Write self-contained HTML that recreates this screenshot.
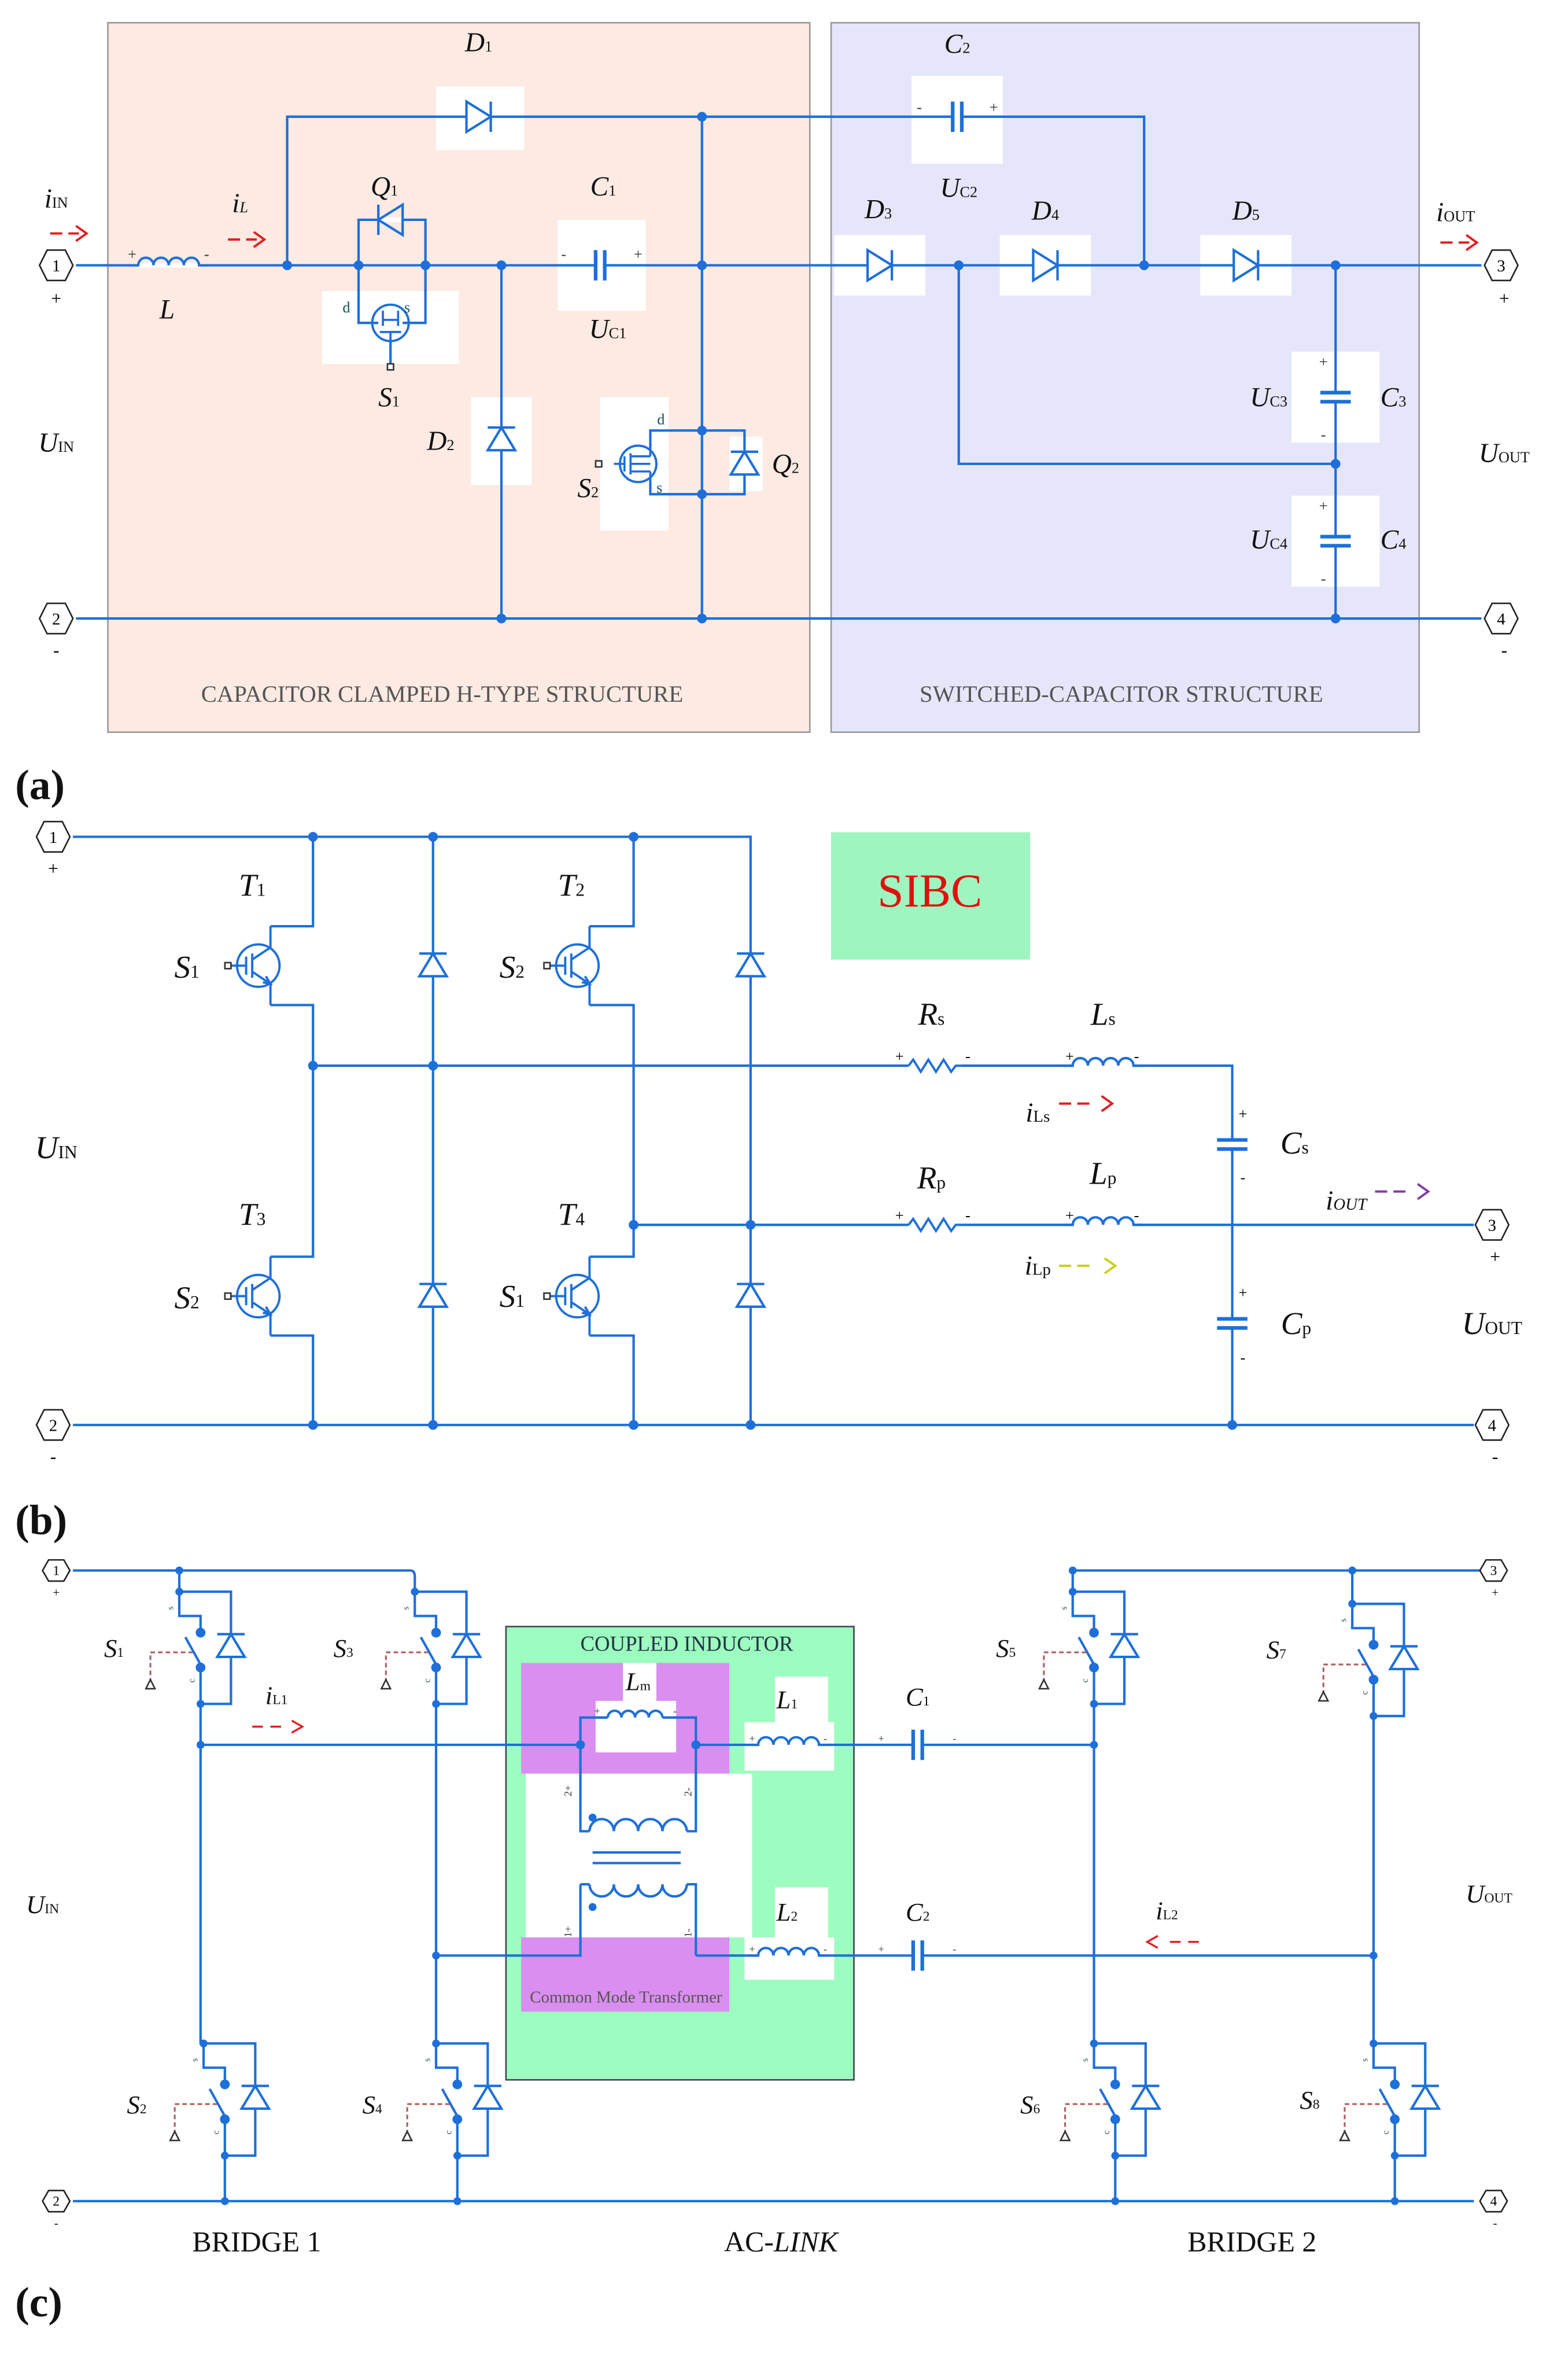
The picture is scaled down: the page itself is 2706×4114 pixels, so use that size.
<!DOCTYPE html>
<html><head><meta charset="utf-8"><style>
html,body{margin:0;padding:0;background:#fff;}
svg{display:block;}
text{font-family:"Liberation Serif",serif;}
</style></head><body>
<svg width="2706" height="4114" viewBox="0 0 1030 1570" preserveAspectRatio="none" xmlns="http://www.w3.org/2000/svg">
<defs>
<g id="dR"><rect x="-8" y="-1.5" width="16" height="3" fill="#fff"/><path d="M-8,-10 L-8,10 L8,0 Z M8,-10 L8,10" fill="none" stroke="#1e6fd9" stroke-width="1.6"/></g>
<g id="dU"><path d="M-9,7 L9,7 L0,-8 Z M-9,-8 L9,-8" fill="#fff" stroke="#1e6fd9" stroke-width="1.6"/></g>
<g id="ind"><rect x="-20" y="-1.5" width="40" height="3" fill="#fff"/><path d="M-26,0 L-20,0 a5,5 0 0 1 10,0 a5,5 0 0 1 10,0 a5,5 0 0 1 10,0 a5,5 0 0 1 10,0 L26,0" fill="none" stroke="#1e6fd9" stroke-width="1.6"/></g>
<g id="res"><rect x="-17" y="-1.5" width="34" height="3" fill="#fff"/><path d="M-17,0 L-14,-4 L-9,4 L-4,-4 L1,4 L6,-4 L11,4 L14,0 L17,0" fill="none" stroke="#1e6fd9" stroke-width="1.5"/></g>
<g id="capH"><rect x="-3" y="-1.5" width="6" height="3" fill="#fff"/><path d="M-3,-10 L-3,10 M3,-10 L3,10" stroke="#1e6fd9" stroke-width="2.4"/></g>
<g id="capV"><rect x="-1.5" y="-3" width="3" height="6" fill="#fff"/><path d="M-10,-3 L10,-3 M-10,3 L10,3" stroke="#1e6fd9" stroke-width="2.4"/></g>
<g id="igbt"><circle r="14" fill="none" stroke="#1e6fd9" stroke-width="1.5"/><path d="M-4,-8 L-4,8 M-8,-6 L-8,6 M-18,0 L-8,0 M-4,-4 L8,-12 L8,-26 M-4,4 L8,12 L8,26 M3,11 L8,12 L5,7" fill="none" stroke="#1e6fd9" stroke-width="1.5"/><rect x="-22" y="-2" width="4" height="4" fill="#fff" stroke="#333" stroke-width="1"/></g>
<g id="sw"><path d="M-14,0 L-14,16 L0,16 L0,24 M-10,30 L0,48 M0,52 L0,74 M-14,0 L20,0 L20,74 L0,74" fill="none" stroke="#1e6fd9" stroke-width="1.6"/><use href="#dU" x="20" y="36"/><circle cx="0" cy="27" r="3.2" fill="#1e6fd9"/><circle cx="0" cy="50" r="3.2" fill="#1e6fd9"/><circle cx="-14" cy="0" r="2.6" fill="#1e6fd9"/><circle cx="0" cy="74" r="2.6" fill="#1e6fd9"/><path d="M-5,40 L-33,40 L-33,58" fill="none" stroke="#b06060" stroke-width="1.2" stroke-dasharray="3,2"/><path d="M-36,64 L-30,64 L-33,58 Z" fill="#fff" stroke="#333" stroke-width="1"/><text x="-18" y="12" font-size="6" fill="#355" font-family="Liberation Sans" transform="rotate(-90 -18 12)">s</text><text x="-4" y="60" font-size="6" fill="#355" font-family="Liberation Sans" transform="rotate(-90 -4 60)">c</text></g>
<g id="mos"><circle r="12" fill="none" stroke="#1e6fd9" stroke-width="1.5"/><path d="M-5,-7 L-5,7 M-9,-5 L-9,5 M-16,0 L-9,0 M-5,-5 L8,-5 M-5,5 L8,5 M-5,0 L8,0 M8,-5 L8,-10 M8,5 L8,10" fill="none" stroke="#1e6fd9" stroke-width="1.4"/></g>
</defs>

<!-- ============ PANEL A ============ -->
<rect x="71" y="15" width="462" height="468" fill="#fdeae2" stroke="#999" stroke-width="1"/>
<rect x="547" y="15" width="387" height="468" fill="#e6e6fb" stroke="#999" stroke-width="1"/>
<g fill="#fff">
<rect x="287" y="57" width="58" height="42"/><rect x="600" y="50" width="60" height="58"/>
<rect x="212" y="192" width="90" height="48"/><rect x="367" y="145" width="58" height="60"/>
<rect x="310" y="262" width="40" height="58"/><rect x="395" y="262" width="45" height="88"/>
<rect x="480" y="288" width="22" height="36"/>
<rect x="549" y="155" width="60" height="40"/><rect x="658" y="155" width="60" height="40"/><rect x="790" y="155" width="60" height="40"/>
<rect x="850" y="232" width="58" height="60"/><rect x="850" y="327" width="58" height="60"/>
</g>
<g fill="none" stroke="#1e6fd9" stroke-width="1.6">
<path d="M50,175 L975,175"/>
<path d="M50,408 L975,408"/>
<path d="M189,175 L189,77 L753,77 L753,175"/>
<path d="M236,175 L236,145 L280,145 L280,175"/>
<path d="M236,175 L236,213 L249,213 M280,175 L280,213 L265,213"/>
<path d="M257,225 L257,241"/>
<path d="M330,175 L330,408"/>
<path d="M462,77 L462,408"/>
<path d="M462,284 L428,284 L428,296 M462,326 L428,326 L428,316"/>
<path d="M462,284 L490,284 L490,326 L462,326"/>
<path d="M631,175 L631,306 L879,306"/>
<path d="M879,175 L879,408"/>
</g>
<use href="#ind" x="111" y="175"/>
<use href="#dR" x="315" y="77"/>
<g transform="translate(257,145) rotate(180)"><use href="#dR"/></g>
<g transform="translate(257,213)"><circle r="12" fill="none" stroke="#1e6fd9" stroke-width="1.5"/><path d="M-7,6 L7,6 M-5,2 L-5,-8 M5,2 L5,-8 M-5,-2 L5,-2 M0,6 L0,12" fill="none" stroke="#1e6fd9" stroke-width="1.4"/></g>
<rect x="255" y="240" width="4" height="4" fill="#fff" stroke="#333" stroke-width="1"/>
<use href="#capH" x="395" y="175"/>
<use href="#dU" x="330" y="290"/>
<g transform="translate(420,306)"><use href="#mos"/></g>
<rect x="392" y="304" width="4" height="4" fill="#fff" stroke="#333" stroke-width="1"/>
<use href="#dU" x="490" y="306"/>
<use href="#capH" x="630" y="77"/>
<use href="#dR" x="579" y="175"/>
<use href="#dR" x="688" y="175"/>
<use href="#dR" x="820" y="175"/>
<use href="#capV" x="879" y="262"/>
<use href="#capV" x="879" y="357"/>
<g fill="#1e6fd9">
<circle cx="189" cy="175" r="3.2"/><circle cx="236" cy="175" r="3.2"/><circle cx="280" cy="175" r="3.2"/><circle cx="330" cy="175" r="3.2"/><circle cx="462" cy="175" r="3.2"/><circle cx="462" cy="77" r="3.2"/><circle cx="631" cy="175" r="3.2"/><circle cx="753" cy="175" r="3.2"/><circle cx="879" cy="175" r="3.2"/><circle cx="879" cy="306" r="3.2"/><circle cx="879" cy="408" r="3.2"/><circle cx="462" cy="408" r="3.2"/><circle cx="330" cy="408" r="3.2"/><circle cx="462" cy="284" r="3.2"/><circle cx="462" cy="326" r="3.2"/>
</g>
<g font-family="Liberation Sans" font-size="11" text-anchor="middle">
<polygon points="26,175 31,165 43,165 48,175 43,185 31,185" fill="#fff" stroke="#222"/><text x="37" y="179">1</text>
<polygon points="26,408 31,398 43,398 48,408 43,418 31,418" fill="#fff" stroke="#222"/><text x="37" y="412">2</text>
<polygon points="977,175 982,165 994,165 999,175 994,185 982,185" fill="#fff" stroke="#222"/><text x="988" y="179">3</text>
<polygon points="977,408 982,398 994,398 999,408 994,418 982,418" fill="#fff" stroke="#222"/><text x="988" y="412">4</text>
<text x="37" y="201" font-size="12">+</text><text x="37" y="433" font-size="12">-</text><text x="990" y="201" font-size="12">+</text><text x="990" y="433" font-size="12">-</text>
</g>
<g stroke="#e02020" stroke-width="1.5" fill="none">
<path d="M33,154 L41,154 M45,154 L52,154 M50,149 L57,154 L50,159"/>
<path d="M150,158 L158,158 M162,158 L169,158 M167,153 L174,158 L167,163"/>
<path d="M948,160 L956,160 M960,160 L967,160 M965,155 L972,160 L965,165"/>
</g>
<g font-size="18" font-style="italic" text-anchor="middle" fill="#111">
<text x="37" y="137">i<tspan font-size="10" font-style="normal">IN</tspan></text>
<text x="158" y="140">i<tspan font-size="10">L</tspan></text>
<text x="110" y="210">L</text>
<text x="37" y="298">U<tspan font-size="10" font-style="normal">IN</tspan></text>
<text x="315" y="34">D<tspan font-size="10" font-style="normal">1</tspan></text>
<text x="253" y="129">Q<tspan font-size="10" font-style="normal">1</tspan></text>
<text x="256" y="268">S<tspan font-size="10" font-style="normal">1</tspan></text>
<text x="397" y="129">C<tspan font-size="10" font-style="normal">1</tspan></text>
<text x="400" y="223">U<tspan font-size="10" font-style="normal">C1</tspan></text>
<text x="290" y="297">D<tspan font-size="10" font-style="normal">2</tspan></text>
<text x="387" y="328">S<tspan font-size="10" font-style="normal">2</tspan></text>
<text x="517" y="312">Q<tspan font-size="10" font-style="normal">2</tspan></text>
<text x="630" y="35">C<tspan font-size="10" font-style="normal">2</tspan></text>
<text x="631" y="130">U<tspan font-size="10" font-style="normal">C2</tspan></text>
<text x="578" y="144">D<tspan font-size="10" font-style="normal">3</tspan></text>
<text x="688" y="145">D<tspan font-size="10" font-style="normal">4</tspan></text>
<text x="820" y="145">D<tspan font-size="10" font-style="normal">5</tspan></text>
<text x="958" y="146">i<tspan font-size="10" font-style="normal">OUT</tspan></text>
<text x="990" y="305">U<tspan font-size="10" font-style="normal">OUT</tspan></text>
<text x="835" y="268">U<tspan font-size="10" font-style="normal">C3</tspan></text>
<text x="917" y="268">C<tspan font-size="10" font-style="normal">3</tspan></text>
<text x="835" y="362">U<tspan font-size="10" font-style="normal">C4</tspan></text>
<text x="917" y="362">C<tspan font-size="10" font-style="normal">4</tspan></text>
</g>
<g font-family="Liberation Sans" font-size="10" fill="#333" text-anchor="middle">
<text x="87" y="171">+</text><text x="136" y="171">-</text>
<text x="371" y="171">-</text><text x="420" y="171">+</text>
<text x="605" y="74">-</text><text x="654" y="74">+</text>
<text x="871" y="242">+</text><text x="871" y="290">-</text>
<text x="871" y="337">+</text><text x="871" y="385">-</text>
<text x="228" y="206" fill="#155">d</text><text x="268" y="206" fill="#155">s</text>
<text x="435" y="280" fill="#155">d</text><text x="434" y="325" fill="#155">s</text>
</g>
<g font-size="15.5" fill="#555" text-anchor="middle">
<text x="291" y="463">CAPACITOR CLAMPED H-TYPE STRUCTURE</text>
<text x="738" y="463">SWITCHED-CAPACITOR STRUCTURE</text>
</g>
<text x="10" y="527" font-size="28" font-weight="bold" fill="#111">(a)</text>

<!-- ============ PANEL B ============ -->
<rect x="547" y="549" width="131" height="84" fill="#9ff5c0"/>
<text x="612" y="598" font-size="31" fill="#e01010" text-anchor="middle">SIBC</text>
<g fill="none" stroke="#1e6fd9" stroke-width="1.6">
<path d="M48,552 L494,552 L494,940"/>
<path d="M48,940 L970,940"/>
<path d="M206,552 L206,611 L178,611 M178,663 L206,663 L206,829 L178,829 M178,881 L206,881 L206,940"/>
<path d="M417,552 L417,611 L388,611 M388,663 L417,663 L417,829 L388,829 M388,881 L417,881 L417,940"/>
<path d="M285,552 L285,940"/>
<path d="M206,703 L811,703 L811,940"/>
<path d="M417,808 L970,808"/>
</g>
<use href="#igbt" x="170" y="637"/><use href="#igbt" x="380" y="637"/>
<use href="#igbt" x="170" y="855"/><use href="#igbt" x="380" y="855"/>
<use href="#dU" x="285" y="637"/><use href="#dU" x="285" y="855"/>
<use href="#dU" x="494" y="637"/><use href="#dU" x="494" y="855"/>
<use href="#res" x="615" y="703"/><use href="#ind" x="726" y="703"/>
<use href="#res" x="615" y="808"/><use href="#ind" x="726" y="808"/>
<use href="#capV" x="811" y="755"/><use href="#capV" x="811" y="873"/>
<g fill="#1e6fd9">
<circle cx="206" cy="552" r="3.2"/><circle cx="285" cy="552" r="3.2"/><circle cx="417" cy="552" r="3.2"/>
<circle cx="206" cy="703" r="3.2"/><circle cx="285" cy="703" r="3.2"/>
<circle cx="417" cy="808" r="3.2"/><circle cx="494" cy="808" r="3.2"/>
<circle cx="206" cy="940" r="3.2"/><circle cx="285" cy="940" r="3.2"/><circle cx="417" cy="940" r="3.2"/><circle cx="494" cy="940" r="3.2"/><circle cx="811" cy="940" r="3.2"/>
</g>
<g font-family="Liberation Sans" font-size="11" text-anchor="middle">
<polygon points="24,552 29,542 41,542 46,552 41,562 29,562" fill="#fff" stroke="#222"/><text x="35" y="556">1</text>
<polygon points="24,940 29,930 41,930 46,940 41,950 29,950" fill="#fff" stroke="#222"/><text x="35" y="944">2</text>
<polygon points="971,808 976,798 988,798 993,808 988,818 976,818" fill="#fff" stroke="#222"/><text x="982" y="812">3</text>
<polygon points="971,940 976,930 988,930 993,940 988,950 976,950" fill="#fff" stroke="#222"/><text x="982" y="944">4</text>
<text x="35" y="577" font-size="12">+</text><text x="35" y="965" font-size="12">-</text><text x="984" y="833" font-size="12">+</text><text x="984" y="965" font-size="12">-</text>
<text x="592" y="700" font-size="10">+</text><text x="637" y="700" font-size="10">-</text>
<text x="704" y="700" font-size="10">+</text><text x="748" y="700" font-size="10">-</text>
<text x="592" y="805" font-size="10">+</text><text x="637" y="805" font-size="10">-</text>
<text x="704" y="805" font-size="10">+</text><text x="748" y="805" font-size="10">-</text>
<text x="818" y="738" font-size="10">+</text><text x="818" y="780" font-size="10">-</text>
<text x="818" y="856" font-size="10">+</text><text x="818" y="899" font-size="10">-</text>
</g>
<g fill="none" stroke-width="1.5">
<path d="M697,728 L705,728 M709,728 L717,728 M725,723 L732,728 L725,733" stroke="#e02020"/>
<path d="M697,835 L705,835 M709,835 L717,835 M727,830 L734,835 L727,840" stroke="#c8d020"/>
<path d="M905,786 L913,786 M917,786 L925,786 M933,781 L940,786 L933,791" stroke="#8040a0"/>
</g>
<g font-size="21" font-style="italic" text-anchor="middle" fill="#111">
<text x="166" y="591">T<tspan font-size="12" font-style="normal">1</tspan></text>
<text x="376" y="591">T<tspan font-size="12" font-style="normal">2</tspan></text>
<text x="166" y="808">T<tspan font-size="12" font-style="normal">3</tspan></text>
<text x="376" y="808">T<tspan font-size="12" font-style="normal">4</tspan></text>
<text x="123" y="645">S<tspan font-size="12" font-style="normal">1</tspan></text>
<text x="337" y="645">S<tspan font-size="12" font-style="normal">2</tspan></text>
<text x="123" y="863">S<tspan font-size="12" font-style="normal">2</tspan></text>
<text x="337" y="862">S<tspan font-size="12" font-style="normal">1</tspan></text>
<text x="613" y="676">R<tspan font-size="12" font-style="normal">s</tspan></text>
<text x="726" y="676">L<tspan font-size="12" font-style="normal">s</tspan></text>
<text x="613" y="784">R<tspan font-size="12" font-style="normal">p</tspan></text>
<text x="726" y="781">L<tspan font-size="12" font-style="normal">p</tspan></text>
<text x="683" y="740" font-size="18">i<tspan font-size="11" font-style="normal">Ls</tspan></text>
<text x="683" y="841" font-size="18">i<tspan font-size="11" font-style="normal">Lp</tspan></text>
<text x="852" y="761">C<tspan font-size="12" font-style="normal">s</tspan></text>
<text x="853" y="880">C<tspan font-size="12" font-style="normal">p</tspan></text>
<text x="886" y="798" font-size="18">i<tspan font-size="11">OUT</tspan></text>
<text x="37" y="764">U<tspan font-size="12" font-style="normal">IN</tspan></text>
<text x="982" y="880">U<tspan font-size="12" font-style="normal">OUT</tspan></text>
</g>
<text x="10" y="1012" font-size="28" font-weight="bold" fill="#111">(b)</text>

<!-- ============ PANEL C ============ -->
<rect x="333" y="1073" width="229" height="299" fill="#9dfcbf" stroke="#445" stroke-width="1"/>
<rect x="343" y="1097" width="137" height="73" fill="#da8ef0"/>
<rect x="343" y="1278" width="137" height="49" fill="#da8ef0"/>
<rect x="346" y="1170" width="149" height="108" fill="#fff"/>
<rect x="392" y="1122" width="53" height="34" fill="#fff"/>
<rect x="410" y="1097" width="22" height="25" fill="#fff"/>
<rect x="490" y="1136" width="59" height="32" fill="#fff"/>
<rect x="510" y="1106" width="35" height="30" fill="#fff"/>
<rect x="490" y="1278" width="59" height="28" fill="#fff"/>
<rect x="510" y="1245" width="35" height="33" fill="#fff"/>
<text x="452" y="1089" font-size="14" fill="#234" text-anchor="middle">COUPLED INDUCTOR</text>
<text x="412" y="1321" font-size="11" fill="#555" text-anchor="middle">Common Mode Transformer</text>
<g fill="none" stroke="#1e6fd9" stroke-width="1.6">
<path d="M48,1036 L270,1036 Q273,1036 273,1040 L273,1050"/>
<path d="M705,1036 L975,1036"/>
<path d="M706,1036 L706,1050 M890,1036 L890,1058"/>
<path d="M118,1036 L118,1050"/>
<path d="M48,1452 L970,1452"/>
<path d="M132,1124 L132,1348 L134,1348"/>
<path d="M287,1124 L287,1348"/>
<path d="M720,1124 L720,1348"/>
<path d="M904,1132 L904,1348"/>
<path d="M148,1422 L148,1452 M301,1422 L301,1452 M734,1422 L734,1452 M918,1422 L918,1452"/>
<path d="M132,1151 L382,1151"/>
<path d="M287,1290 L382,1290 L382,1243"/>
<path d="M382,1151 L382,1133 L400,1133 M436,1133 L458,1133 L458,1151"/>
<path d="M382,1151 L382,1208 L388,1208 M452,1208 L458,1208 L458,1151"/>
<path d="M382,1243 L388,1243 M452,1243 L458,1243 L458,1290"/>
<path d="M458,1151 L720,1151"/>
<path d="M458,1290 L904,1290"/>
<path d="M400,1133 a4.5,4.5 0 0 1 9,0 a4.5,4.5 0 0 1 9,0 a4.5,4.5 0 0 1 9,0 a4.5,4.5 0 0 1 9,0"/>
<path d="M388,1208 a8,8 0 0 1 16,0 a8,8 0 0 1 16,0 a8,8 0 0 1 16,0 a8,8 0 0 1 16,0"/>
<path d="M388,1243 a8,8 0 0 0 16,0 a8,8 0 0 0 16,0 a8,8 0 0 0 16,0 a8,8 0 0 0 16,0"/>
<path d="M390,1222 L448,1222 M390,1229 L448,1229"/>
</g>
<use href="#ind" x="519" y="1151"/><use href="#ind" x="519" y="1290"/>
<use href="#capH" x="604" y="1151"/><use href="#capH" x="604" y="1290"/>
<use href="#sw" x="132" y="1050"/><use href="#sw" x="287" y="1050"/>
<use href="#sw" x="720" y="1050"/><use href="#sw" x="904" y="1058"/>
<use href="#sw" x="148" y="1348"/><use href="#sw" x="301" y="1348"/>
<use href="#sw" x="734" y="1348"/><use href="#sw" x="918" y="1348"/>
<g fill="#1e6fd9">
<circle cx="118" cy="1036" r="2.6"/><circle cx="706" cy="1036" r="2.6"/><circle cx="890" cy="1036" r="2.6"/>
<circle cx="132" cy="1151" r="2.6"/><circle cx="287" cy="1290" r="2.6"/><circle cx="720" cy="1151" r="2.6"/><circle cx="904" cy="1290" r="2.6"/>
<circle cx="382" cy="1151" r="3"/><circle cx="458" cy="1151" r="3"/>
<circle cx="390" cy="1199" r="2.6"/><circle cx="390" cy="1258" r="2.6"/>
<circle cx="148" cy="1452" r="2.6"/><circle cx="301" cy="1452" r="2.6"/><circle cx="734" cy="1452" r="2.6"/><circle cx="918" cy="1452" r="2.6"/>
</g>
<g font-family="Liberation Sans" font-size="7" fill="#333">
<text x="376" y="1185" transform="rotate(-90 376 1185)">2+</text>
<text x="455" y="1185" transform="rotate(-90 455 1185)">2-</text>
<text x="376" y="1278" transform="rotate(-90 376 1278)">1+</text>
<text x="455" y="1278" transform="rotate(-90 455 1278)">1-</text>
<text x="391" y="1131">+</text><text x="443" y="1131">-</text>
<text x="493" y="1149">+</text><text x="542" y="1149">-</text>
<text x="493" y="1288">+</text><text x="542" y="1288">-</text>
<text x="578" y="1149">+</text><text x="627" y="1149">-</text>
<text x="578" y="1288">+</text><text x="627" y="1288">-</text>
</g>
<g font-family="Liberation Sans" font-size="9" text-anchor="middle">
<polygon points="28,1036 32,1029 42,1029 46,1036 42,1043 32,1043" fill="#fff" stroke="#222"/><text x="37" y="1039">1</text>
<polygon points="28,1452 32,1445 42,1445 46,1452 42,1459 32,1459" fill="#fff" stroke="#222"/><text x="37" y="1455">2</text>
<polygon points="974,1036 978,1029 988,1029 992,1036 988,1043 978,1043" fill="#fff" stroke="#222"/><text x="983" y="1039">3</text>
<polygon points="974,1452 978,1445 988,1445 992,1452 988,1459 978,1459" fill="#fff" stroke="#222"/><text x="983" y="1455">4</text>
<text x="37" y="1053" font-size="8">+</text><text x="37" y="1469" font-size="8">-</text><text x="984" y="1053" font-size="8">+</text><text x="984" y="1469" font-size="8">-</text>
</g>
<g fill="none" stroke="#e02020" stroke-width="1.3">
<path d="M166,1139 L173,1139 M178,1139 L185,1139 M192,1135 L199,1139 L192,1143"/>
<path d="M789,1281 L782,1281 M777,1281 L770,1281 M762,1277 L755,1281 L762,1285"/>
</g>
<g font-size="17" font-style="italic" text-anchor="middle" fill="#111">
<text x="75" y="1093">S<tspan font-size="9" font-style="normal">1</tspan></text>
<text x="226" y="1093">S<tspan font-size="9" font-style="normal">3</tspan></text>
<text x="90" y="1394">S<tspan font-size="9" font-style="normal">2</tspan></text>
<text x="245" y="1394">S<tspan font-size="9" font-style="normal">4</tspan></text>
<text x="662" y="1093">S<tspan font-size="9" font-style="normal">5</tspan></text>
<text x="840" y="1094">S<tspan font-size="9" font-style="normal">7</tspan></text>
<text x="678" y="1394">S<tspan font-size="9" font-style="normal">6</tspan></text>
<text x="862" y="1391">S<tspan font-size="9" font-style="normal">8</tspan></text>
<text x="182" y="1124">i<tspan font-size="9" font-style="normal">L1</tspan></text>
<text x="768" y="1266">i<tspan font-size="9" font-style="normal">L2</tspan></text>
<text x="28" y="1262">U<tspan font-size="9" font-style="normal">IN</tspan></text>
<text x="980" y="1255">U<tspan font-size="9" font-style="normal">OUT</tspan></text>
<text x="420" y="1115">L<tspan font-size="9" font-style="normal">m</tspan></text>
<text x="518" y="1127">L<tspan font-size="9" font-style="normal">1</tspan></text>
<text x="518" y="1267">L<tspan font-size="9" font-style="normal">2</tspan></text>
<text x="604" y="1125">C<tspan font-size="9" font-style="normal">1</tspan></text>
<text x="604" y="1267">C<tspan font-size="9" font-style="normal">2</tspan></text>
</g>
<g font-size="19" fill="#111" text-anchor="middle">
<text x="169" y="1485">BRIDGE 1</text>
<text x="514" y="1485">AC-<tspan font-style="italic">LINK</tspan></text>
<text x="824" y="1485">BRIDGE 2</text>
</g>
<text x="10" y="1528" font-size="28" font-weight="bold" fill="#111">(c)</text>
</svg>
</body></html>
